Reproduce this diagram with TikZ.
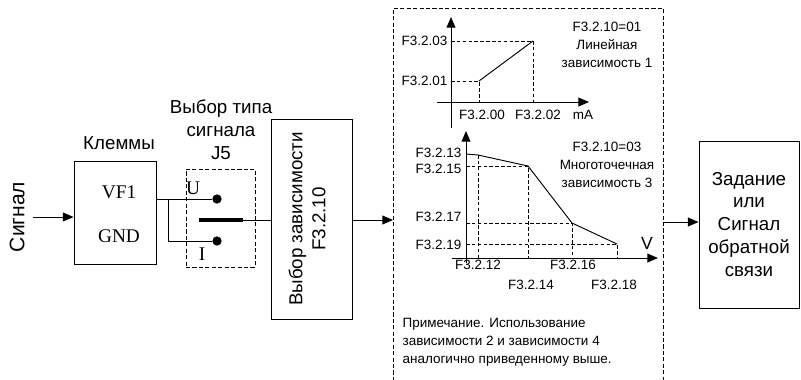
\documentclass[tikz,border=0pt]{standalone}
\usepackage{fontspec}
\setmainfont{Liberation Sans}
\newfontfamily\tmsfont{Liberation Serif}
\usetikzlibrary{arrows.meta,calc,positioning}
\tikzset{
  block/.style={draw,rectangle,line width=0.8pt,inner sep=0pt,align=center,font=\fontsize{16}{19.6}\selectfont},
  bigtxt/.style={align=center,inner sep=0pt,font=\fontsize{16}{19.6}\selectfont},
  contact/.style={circle,fill,inner sep=0pt,minimum size=2.8mm},
  termtxt/.style={inner sep=0pt,font=\tmsfont\fontsize{16.5}{19}\selectfont},
  lbl/.style={inner sep=1pt,font=\fontsize{11.5}{15.5}\selectfont},
  guide/.style={line width=0.6pt,dash pattern=on 3pt off 2pt},
  dashbox/.style={line width=0.6pt,dash pattern=on 3.5pt off 2pt},
  flow/.style={line width=0.8pt,-{Triangle[length=9pt,width=7.5pt]}}
}

\begin{document}
\begin{tikzpicture}[x=0.03cm,y=-0.03cm,line width=0.8pt]
  \useasboundingbox (0,0) rectangle (801,379);

  \node[block,minimum width=2.46cm,minimum height=3.09cm] (clamp) at (115,212.5) {};
  \node[block,minimum width=2.43cm,minimum height=6.0cm] (sel) at (311.5,219) {};
  \node[block,minimum width=3.0cm,minimum height=5.01cm] (out) at (749,224.5) {Задание\\или\\Сигнал\\обратной\\связи};
  \node[draw,dashbox,minimum width=2.07cm,minimum height=2.94cm] (j5) at (220.5,218) {};
  \draw[dashbox] (393,381) -- (393,8) -- (663,8) -- (663,381);

  \node[bigtxt,rotate=90,font=\fontsize{18}{21}\selectfont] (sig) at (17,217) {Сигнал};
  \node[bigtxt] (clamplbl) at (119,143) {Клеммы};
  \node[termtxt] (vf) at (119,192) {VF1};
  \node[termtxt] (gnd) at (119,236) {GND};
  \node[bigtxt] (j5lbl) at (221,130) {Выбор типа\\сигнала\\J5};
  \node[bigtxt,rotate=90] (sellbl) at (307,219) {Выбор зависимости\\F3.2.10};

  \node[contact] (pu) at (217,199) {};
  \node[contact] (pi) at (217,241) {};
  \node[termtxt] (ulbl) at (193,188) {U};
  \node[termtxt] (ilbl) at (202,254) {I};
  \coordinate (fork) at (168,199);
  \coordinate (swa) at (199,220);
  \coordinate (swb) at (243,220);
  \coordinate (sigin) at (33,217);
  \coordinate (chin) at (393,220);
  \coordinate (chout) at (663,222);

  \draw[flow] (sigin) -- (sigin -| clamp.west);
  \draw (pu -| clamp.east) -- (pu);
  \draw (fork) |- (pi);
  \draw[line width=3pt] (swa) -- (swb);
  \draw (swb) -- (swb -| sel.west);
  \draw[flow] (chin -| sel.east) -- (chin);
  \draw[flow] (chout) -- (chout -| out.west);

  % linear
  \coordinate (o1) at (451,102);
  \coordinate (a1) at (479,81);
  \coordinate (b1) at (533,41);
  \draw[flow] (451,128) -- (451,17);
  \draw[flow] (437,102) -- (589,102);
  \draw[guide] (a1 -| o1) -- (a1) -- (a1 |- o1);
  \draw[guide] (b1 -| o1) -- (b1) -- (b1 |- o1);
  \draw (a1) -- (b1);
  \node[lbl,anchor=east] (y03) at (449,41) {F3.2.03};
  \node[lbl,anchor=east] (y01) at (449,81) {F3.2.01};
  \node[lbl] (x00) at (482,115) {F3.2.00};
  \node[lbl] (x02) at (538,115) {F3.2.02};
  \node[lbl] (ma) at (583,115) {mA};
  \node[lbl,align=center] (cap1) at (607,45) {F3.2.10=01\\Линейная\\зависимость 1};

  % multipoint
  \coordinate (o2) at (466,258);
  \coordinate (p0) at (466,154);
  \coordinate (p1) at (478,155);
  \coordinate (p2) at (528,166);
  \coordinate (p3) at (572,223);
  \coordinate (p4) at (617,244);
  \draw[flow] (466,263) -- (466,131);
  \draw[flow] (452,258) -- (658,258);
  \draw[guide] (p1) -- (p1 |- o2);
  \draw[guide] (p2 -| o2) -- (p2) -- (p2 |- o2);
  \draw[guide] (p3 -| o2) -- (p3) -- (p3 |- o2);
  \draw[guide] (p4 -| o2) -- (p4) -- (p4 |- o2);
  \draw (p0) -- (p1) -- (p2) -- (p3) -- (p4);
  \node[lbl,anchor=east] (y13) at (463,152.5) {F3.2.13};
  \node[lbl,anchor=east] (y15) at (463,169) {F3.2.15};
  \node[lbl,anchor=east] (y17) at (463,217) {F3.2.17};
  \node[lbl,anchor=east] (y19) at (463,245) {F3.2.19};
  \node[lbl] (x12) at (478,265) {F3.2.12};
  \node[lbl] (x16) at (573,265) {F3.2.16};
  \node[lbl] (x14) at (531,285) {F3.2.14};
  \node[lbl] (x18) at (614,285) {F3.2.18};
  \node[font=\fontsize{15}{18}\selectfont] (vlbl) at (647,243) {V};
  \node[lbl,align=center] (cap3) at (607,165) {F3.2.10=03\\Многоточечная\\зависимость 3};

  \node[lbl,anchor=west,align=left] (note) at (401,342) {Примечание. Использование\\зависимости 2 и зависимости 4\\аналогично приведенному выше.};
\end{tikzpicture}
\end{document}
